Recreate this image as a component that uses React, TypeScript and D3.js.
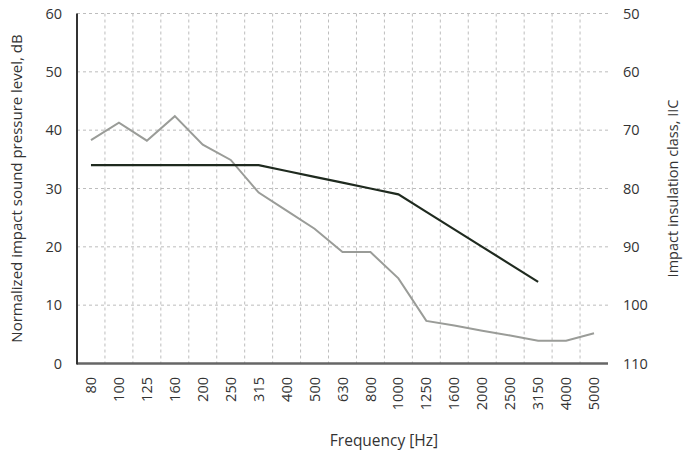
import React, { useRef, useEffect } from 'react';
import * as d3 from 'd3';

// third-octave band centres, Hz
const frequencies = ['80', '100', '125', '160', '200', '250', '315', '400', '500', '630', '800', '1000', '1250', '1600', '2000', '2500', '3150', '4000', '5000'];

// measured normalized impact sound pressure level, dB (grey line)
const measuredLevels = [38.3, 41.3, 38.2, 42.4, 37.5, 34.9, 29.3, 26.2, 23.1, 19.1, 19.1, 14.6, 7.3, 6.5, 5.6, 4.8, 3.9, 3.9, 5.2];

// shifted reference curve, dB (dark line), stops at 3150 Hz
const referenceCurve = [34, 34, 34, 34, 34, 34, 34, 33, 32, 31, 30, 29, 26, 23, 20, 17, 14, null, null];

const levelTicks = [0, 10, 20, 30, 40, 50, 60];
const classTicks = [110, 100, 90, 80, 70, 60, 50];

const WIDTH = 683;
const HEIGHT = 455;
const FONT = '"Open Sans", sans-serif';

const ImpactChart = () => {
    const svgRef = useRef(null);

    useEffect(() => {
        const svg = d3.select(svgRef.current);
        svg.selectAll('*').remove();

        const margin = { top: 13.5, right: 75, bottom: 91.5, left: 77 };
        const innerWidth = WIDTH - margin.left - margin.right;
        const innerHeight = HEIGHT - margin.top - margin.bottom;

        const x = d3.scaleBand().domain(frequencies).range([0, innerWidth]).padding(0);
        const y = d3.scaleLinear().domain([0, 60]).range([innerHeight, 0]);
        const yRight = d3.scaleLinear().domain([110, 50]).range([innerHeight, 0]);

        const cx = d => x(d) + x.bandwidth() / 2;

        const g = svg.append('g').attr('transform', `translate(${margin.left},${margin.top})`);

        // horizontal grid
        g.append('g')
            .selectAll('line')
            .data(levelTicks.filter(t => t > 0))
            .join('line')
            .attr('x1', 0)
            .attr('x2', innerWidth)
            .attr('y1', d => y(d))
            .attr('y2', d => y(d))
            .attr('stroke', '#bdbdbd')
            .attr('stroke-dasharray', '3,3');

        // vertical grid on band edges
        g.append('g')
            .selectAll('line')
            .data(frequencies.slice(1))
            .join('line')
            .attr('x1', d => x(d))
            .attr('x2', d => x(d))
            .attr('y1', 0)
            .attr('y2', innerHeight)
            .attr('stroke', '#bdbdbd')
            .attr('stroke-dasharray', '3,3');

        const line = d3
            .line()
            .defined(d => d.v !== null)
            .x(d => cx(d.f))
            .y(d => y(d.v));

        g.append('path')
            .datum(frequencies.map((f, i) => ({ f, v: measuredLevels[i] })))
            .attr('fill', 'none')
            .attr('stroke', '#9a9c98')
            .attr('stroke-width', 2)
            .attr('d', line);

        g.append('path')
            .datum(frequencies.map((f, i) => ({ f, v: referenceCurve[i] })))
            .attr('fill', 'none')
            .attr('stroke', '#1f2a1f')
            .attr('stroke-width', 2.2)
            .attr('d', line);

        // axis lines
        g.append('line')
            .attr('x1', 0).attr('x2', innerWidth)
            .attr('y1', innerHeight).attr('y2', innerHeight)
            .attr('stroke', '#666').attr('stroke-width', 2.5);
        g.append('line')
            .attr('x1', 0).attr('x2', 0)
            .attr('y1', 0).attr('y2', innerHeight + 1)
            .attr('stroke', '#333').attr('stroke-width', 2);

        const text = size => sel => sel
            .attr('fill', '#333')
            .attr('font-family', FONT)
            .attr('font-size', size);

        // left tick labels
        g.append('g')
            .selectAll('text')
            .data(levelTicks)
            .join('text')
            .attr('x', -15)
            .attr('y', d => y(d))
            .attr('dy', '0.35em')
            .attr('text-anchor', 'end')
            .text(d => d)
            .call(text(14.5));

        // right tick labels
        g.append('g')
            .selectAll('text')
            .data(classTicks)
            .join('text')
            .attr('x', innerWidth + 15)
            .attr('y', d => yRight(d))
            .attr('dy', '0.35em')
            .attr('text-anchor', 'start')
            .text(d => d)
            .call(text(14.5));

        // frequency labels, rotated
        g.append('g')
            .selectAll('text')
            .data(frequencies)
            .join('text')
            .attr('transform', d => `translate(${cx(d)},${innerHeight + 13.5}) rotate(-90)`)
            .attr('dy', '0.35em')
            .attr('text-anchor', 'end')
            .text(d => d)
            .call(text(14.5));

        svg.append('text')
            .attr('x', 384)
            .attr('y', 441)
            .attr('dy', '0.35em')
            .attr('text-anchor', 'middle')
            .text('Frequency [Hz]')
            .call(text(15.5));

        svg.append('text')
            .attr('transform', `translate(17,${margin.top + innerHeight / 2}) rotate(-90)`)
            .attr('dy', '0.35em')
            .attr('text-anchor', 'middle')
            .text('Normalized impact sound pressure level, dB')
            .call(text(15));

        svg.append('text')
            .attr('transform', `translate(673,${margin.top + innerHeight / 2}) rotate(-90)`)
            .attr('dy', '0.35em')
            .attr('text-anchor', 'middle')
            .text('Impact insulation class, IIC')
            .call(text(14.5));
    }, []);

    return <svg ref={svgRef} width={WIDTH} height={HEIGHT} style={{ display: 'block' }} />;
};

export default function App() {
    return (
        <div style={{ position: 'absolute', left: 0, top: 0, background: '#fff' }}>
            <ImpactChart />
        </div>
    );
}
